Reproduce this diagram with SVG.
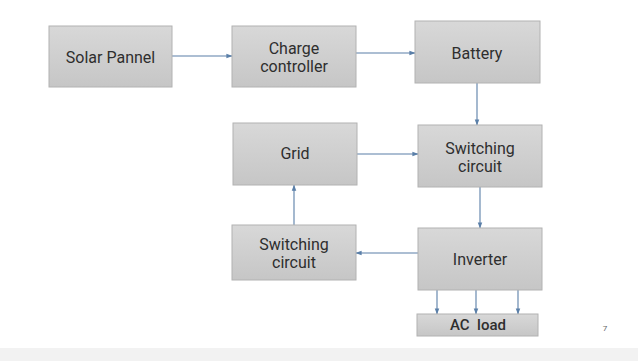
<svg xmlns="http://www.w3.org/2000/svg" width="638" height="361" viewBox="0 0 638 361">
<defs>
<linearGradient id="g" x1="0" y1="0" x2="0" y2="1">
<stop offset="0" stop-color="#d8d8d8"/>
<stop offset="1" stop-color="#c6c6c6"/>
</linearGradient>
<marker id="ah" viewBox="0 0 8 8" refX="7.5" refY="4" markerWidth="6" markerHeight="6" orient="auto" markerUnits="userSpaceOnUse">
<path d="M0,1 L8,4 L0,7 Z" fill="#5a7fa8"/>
</marker>
</defs>
<style>
.box{fill:url(#g);stroke:#b2b2b2;stroke-width:1}
.t{font-family:Roboto,"Liberation Sans",sans-serif;font-size:16px;fill:#2e2e2e;text-anchor:middle;dominant-baseline:central}
.b{font-weight:500;font-size:15px}
.c{fill:none;stroke:#5a7fa8;stroke-width:1.1;marker-end:url(#ah)}
</style>
<rect width="638" height="361" fill="#ffffff"/>
<rect x="0" y="348" width="638" height="13" fill="#f2f2f2"/>
<text x="605" y="328" font-family="Roboto,'Liberation Sans',sans-serif" font-size="8" fill="#666" text-anchor="middle" dominant-baseline="central">7</text>
<g id="connectors">
<path class="c" d="M172 56 H232"/>
<path class="c" d="M356 53 H415"/>
<path class="c" d="M477 83 V125"/>
<path class="c" d="M357 154 H418"/>
<path class="c" d="M480 187 V228"/>
<path class="c" d="M418 253 H356"/>
<path class="c" d="M294 225 V185"/>
<path class="c" d="M437 290 V314"/>
<path class="c" d="M476 290 V314"/>
<path class="c" d="M518 290 V314"/>
</g>
<g id="solar"><rect class="box" x="49" y="26" width="123" height="61"/><text class="t" x="110.5" y="57">Solar Pannel</text></g>
<g id="charge"><rect class="box" x="232" y="26" width="124" height="61"/><text class="t" x="294" y="48">Charge</text><text class="t" x="294" y="66">controller</text></g>
<g id="battery"><rect class="box" x="415" y="21" width="125" height="62"/><text class="t" x="477" y="53">Battery</text></g>
<g id="grid"><rect class="box" x="233" y="123" width="124" height="62"/><text class="t" x="295" y="153">Grid</text></g>
<g id="switch1"><rect class="box" x="418" y="125" width="124" height="62"/><text class="t" x="480" y="148">Switching</text><text class="t" x="480" y="166">circuit</text></g>
<g id="switch2"><rect class="box" x="232" y="225" width="124" height="55"/><text class="t" x="294" y="244">Switching</text><text class="t" x="294" y="262">circuit</text></g>
<g id="inverter"><rect class="box" x="418" y="228" width="124" height="62"/><text class="t" x="480" y="259">Inverter</text></g>
<g id="acload"><rect class="box" x="417" y="314" width="121" height="22"/><text class="t b" x="478" y="325" xml:space="preserve">AC  load</text></g>
</svg>
